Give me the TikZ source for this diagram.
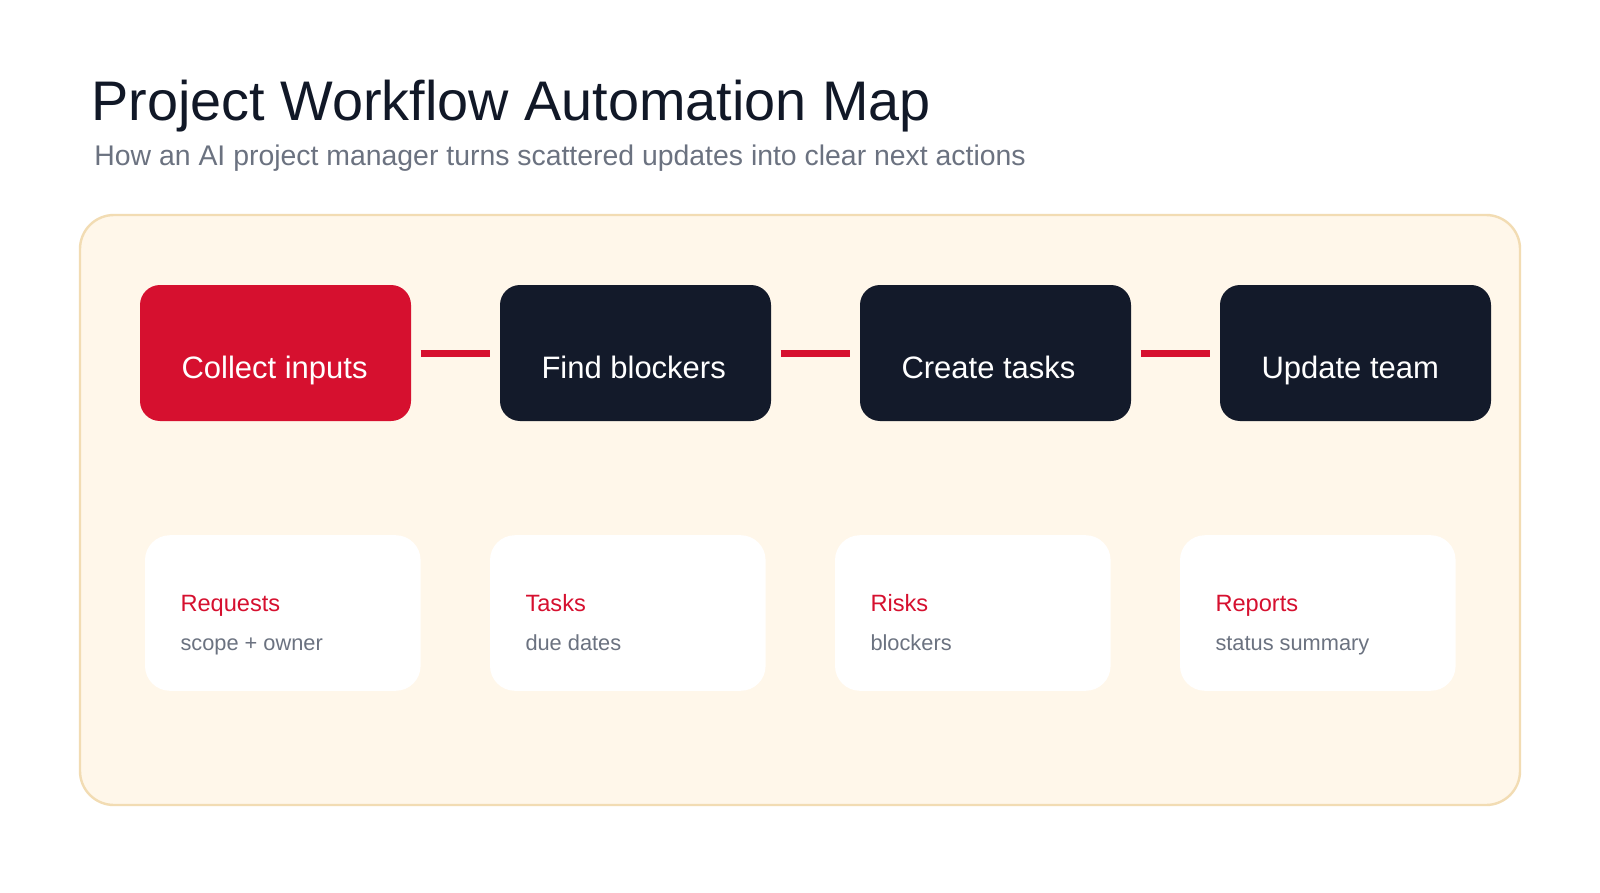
\documentclass[tikz,border=0pt]{standalone}
\usepackage{fontspec}
\setmainfont{Liberation Sans}
\usetikzlibrary{calc}
\definecolor{brandred}{HTML}{D6102F}
\definecolor{navy}{HTML}{131A2A}
\definecolor{titleink}{HTML}{111827}
\definecolor{subgray}{HTML}{6B7280}
\definecolor{panelfill}{HTML}{FFF7EA}
\definecolor{panelline}{HTML}{F2DCB3}
\tikzset{
  panel/.style={draw=panelline, line width=1.2pt, fill=panelfill, rounded corners=17pt},
  stepbox/.style={rectangle, rounded corners=10pt, minimum width=135.5pt, minimum height=68pt, inner sep=0pt, draw=none},
  redbox/.style={stepbox, fill=brandred},
  navybox/.style={stepbox, fill=navy},
  steptext/.style={anchor=base west, inner sep=0pt, text=white, font=\fontsize{15.5pt}{18pt}\selectfont},
  card/.style={rectangle, rounded corners=12.5pt, minimum width=137.8pt, minimum height=77.8pt, inner sep=0pt, fill=white, draw=none},
  cardtitle/.style={anchor=base west, inner sep=0pt, text=brandred, font=\fontsize{11.8pt}{14pt}\selectfont},
  cardsub/.style={anchor=base west, inner sep=0pt, text=subgray, font=\fontsize{10.9pt}{13pt}\selectfont},
  link/.style={draw=brandred, line width=3.5pt, shorten >=4.6pt, shorten <=4.6pt}
}
\begin{document}
\begin{tikzpicture}[x=0.5pt,y=-0.5pt]
\useasboundingbox (0,0) rectangle (1600,893);
\fill[white] (0,0) rectangle (1600,893);
% title
\node[anchor=base west, inner sep=0pt, text=titleink, font=\fontsize{27.9pt}{33pt}\selectfont] (title) at (91,121) {Project Workflow Automation Map};
\node[anchor=base west, inner sep=0pt, text=subgray, font=\fontsize{14.2pt}{17pt}\selectfont] (subtitle) at (94,166) {How an AI project manager turns scattered updates into clear next actions};
% panel
\node[panel, rectangle, minimum width=720pt, minimum height=295pt, inner sep=0pt] (panelbox) at (800,510) {};
% step boxes
\node[redbox] (b1) at (275.5,353) {};
\node[navybox] (b2) at (635.5,353) {};
\node[navybox] (b3) at (995.5,353) {};
\node[navybox] (b4) at (1355.5,353) {};
\node[steptext] (t1) at ($(b1.west)+(41.5,25)$) {Collect inputs};
\node[steptext] (t2) at ($(b2.west)+(41.5,25)$) {Find blockers};
\node[steptext] (t3) at ($(b3.west)+(41.5,25)$) {Create tasks};
\node[steptext] (t4) at ($(b4.west)+(41.5,25)$) {Update team};
\draw[link] (b1.east) -- (b2.west);
\draw[link] (b2.east) -- (b3.west);
\draw[link] (b3.east) -- (b4.west);
% cards
\node[card] (c1) at (282.8,613) {};
\node[card] (c2) at (627.8,613) {};
\node[card] (c3) at (972.8,613) {};
\node[card] (c4) at (1317.8,613) {};
\node[cardtitle] (h1) at ($(c1.west)+(35.5,-1.3)$) {Requests};
\node[cardsub] (s1) at ($(c1.west)+(35.5,37)$) {scope + owner};
\node[cardtitle] (h2) at ($(c2.west)+(35.5,-1.3)$) {Tasks};
\node[cardsub] (s2) at ($(c2.west)+(35.5,37)$) {due dates};
\node[cardtitle] (h3) at ($(c3.west)+(35.5,-1.3)$) {Risks};
\node[cardsub] (s3) at ($(c3.west)+(35.5,37)$) {blockers};
\node[cardtitle] (h4) at ($(c4.west)+(35.5,-1.3)$) {Reports};
\node[cardsub] (s4) at ($(c4.west)+(35.5,37)$) {status summary};
\end{tikzpicture}
\end{document}
